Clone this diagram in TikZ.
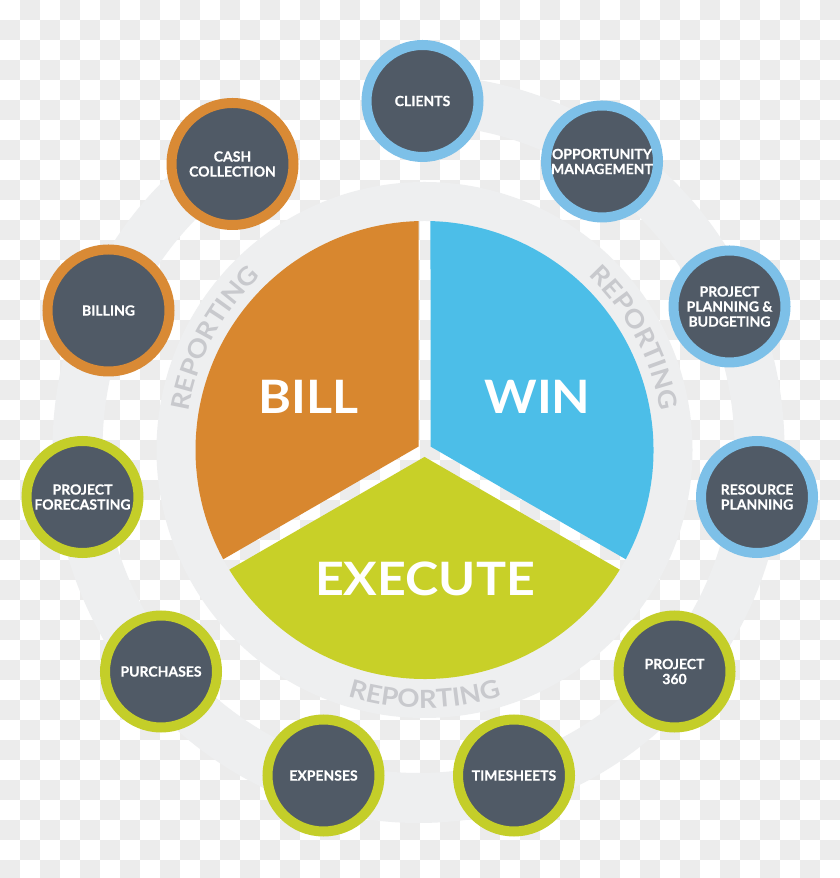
\documentclass[tikz,border=0pt]{standalone}
\usepackage{fontspec}
\setmainfont{Lato}
\newfontfamily\bigfont{Lato}[BoldFeatures={FakeStretch=1.09}]
\newfontfamily\repfont{Lato}[BoldFeatures={FakeStretch=1.1}]
\newfontfamily\smallfont{Lato}[BoldFeatures={FakeBold=0.5}]
\usetikzlibrary{decorations.text}
\definecolor{darkc}{HTML}{505A66}
\definecolor{checkgray}{HTML}{ECECEC}
\definecolor{ringgray}{HTML}{EEEFF0}
\definecolor{bandgray}{HTML}{EEEFF0}
\definecolor{repgray}{HTML}{C8C9CD}
\definecolor{orangec}{HTML}{D8872F}
\definecolor{bluec}{HTML}{4CBEE8}
\definecolor{greenc}{HTML}{C8D028}
\definecolor{obord}{HTML}{D98A35}
\definecolor{bbord}{HTML}{7DC0E8}
\definecolor{gbord}{HTML}{C4CE29}
\tikzset{
  sat/.style={circle, draw=#1, line width=10pt, fill=darkc, minimum size=112pt,
    inner sep=0pt, text=white, align=center,
    font=\smallfont\fontsize{14}{15}\selectfont\bfseries},
  satbig/.style={sat=#1, minimum size=122pt},
  bigtxt/.style={inner sep=0pt, text=white, font=\bigfont\fontsize{46}{46}\selectfont\bfseries},
}
\newcommand\reptext{|\color{repgray}\repfont\fontsize{25}{25}\selectfont\bfseries|REPORTING}
\begin{document}
\begin{tikzpicture}[x=1pt,y=1pt]
\useasboundingbox (0,0) rectangle (840,878);
\clip (0,0) rectangle (840,878);
% checker background
\fill[white] (0,0) rectangle (840,878);
\foreach \j in {0,2,...,42}{\foreach \i in {1,3,...,41}{\fill[checkgray] (\i*20,878-\j*20) rectangle ++(20,-20);}}
\foreach \j in {1,3,...,43}{\foreach \i in {0,2,...,40}{\fill[checkgray] (\i*20,878-\j*20) rectangle ++(20,-20);}}
% outer ring
\coordinate (rc) at (418.5,429);
\draw[ringgray, line width=50pt] ([shift={(0,349)}]rc) arc[start angle=90, end angle=-236.9, x radius=341, y radius=349];
% band round the pie
\coordinate (pc) at (424.5,428);
\draw[bandgray, line width=39pt] (pc) circle[radius=248.5];
% pie sectors
\fill[orangec] ([shift={(150:6.93)}]pc) -- ([shift={(91.5:229)}]pc) arc[start angle=91.5, end angle=208.5, radius=229] -- cycle;
\fill[bluec] ([shift={(30:6.93)}]pc) -- ([shift={(-28.5:229)}]pc) arc[start angle=-28.5, end angle=88.5, radius=229] -- cycle;
\fill[greenc] ([shift={(270:6.93)}]pc) -- ([shift={(211.5:229)}]pc) arc[start angle=211.5, end angle=328.5, radius=229] -- cycle;
\node[bigtxt] (bill) at (308.5,481.5) {BILL};
\node[bigtxt] (win) at (537.5,481.5) {WIN};
\node[bigtxt] (exe) at (425,299.5) {EXECUTE};
% REPORTING labels
\path[decorate, decoration={text along path, text align=center, text/.expand once=\reptext}]
  ([shift={(178:239)}]pc) arc[start angle=178, end angle=126, radius=239];
\path[decorate, decoration={text along path, text align=center, text/.expand once=\reptext}]
  ([shift={(54:239)}]pc) arc[start angle=54, end angle=2, radius=239];
\path[decorate, decoration={text along path, text align=center, text/.expand once=\reptext}]
  ([shift={(236:258)}]pc) arc[start angle=236, end angle=304, radius=258];
% satellites
\node[sat=bbord] (clients) at (422.5,777) {CLIENTS};
\node[sat=bbord] (opp) at (602,716.5) {OPPORTUNITY\\MANAGEMENT};
\node[sat=bbord] (ppb) at (729.5,571.5) {PROJECT\\PLANNING \&\\BUDGETING};
\node[sat=bbord] (res) at (757,381) {RESOURCE\\PLANNING};
\node[sat=gbord] (p360) at (674.5,206.5) {PROJECT\\360};
\node[sat=gbord] (time) at (514,102.5) {TIMESHEETS};
\node[sat=gbord] (exp) at (323.5,102.5) {EXPENSES};
\node[sat=gbord] (pur) at (161,206.5) {PURCHASES};
\node[sat=gbord] (fore) at (82.5,381) {PROJECT\\FORECASTING};
\node[satbig=obord] (billing) at (108.5,567.5) {BILLING};
\node[satbig=obord] (cash) at (232.5,714) {CASH\\COLLECTION};
\end{tikzpicture}
\end{document}
